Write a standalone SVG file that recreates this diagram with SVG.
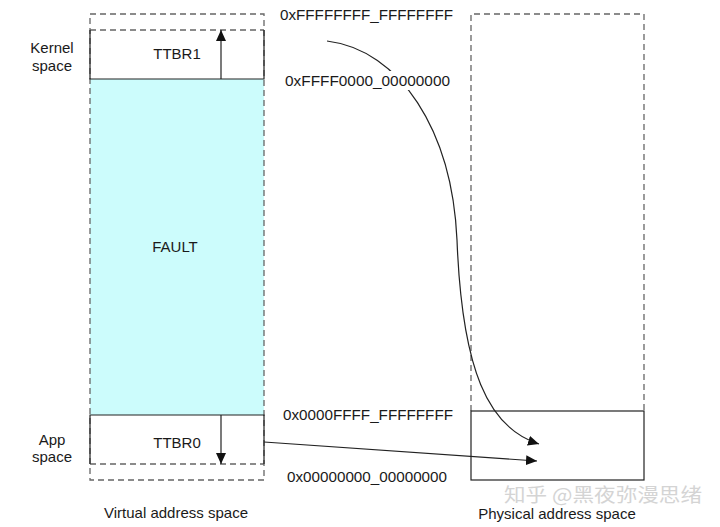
<svg xmlns="http://www.w3.org/2000/svg" width="720" height="527" viewBox="0 0 720 527">
<style>
text{font-family:"Liberation Sans",Arial,sans-serif;font-size:15px;fill:#1a1a1a}
.hex{font-size:15px}
.dash{fill:none;stroke:#666;stroke-width:1.3;stroke-dasharray:6 4}
.solid{fill:none;stroke:#222;stroke-width:1.2}
.conn{fill:none;stroke:#222;stroke-width:1.2}
.wm{font-family:"Noto Sans CJK SC","Noto Sans",sans-serif;font-size:19px;fill:#d4d4d4}
</style>
<defs>
<marker id="ah" markerUnits="userSpaceOnUse" markerWidth="12" markerHeight="10" refX="11" refY="5" orient="auto">
<path d="M0,0 L11,5 L0,10 Z" fill="#111"/>
</marker>
</defs>
<rect width="720" height="527" fill="#fff"/>

<g id="virtual-space">
<rect id="fault-fill" x="90" y="79" width="174" height="336" fill="#ccfcfc"/>
<rect class="dash" x="90" y="14" width="174" height="466"/>
<line class="dash" x1="90" y1="30" x2="264" y2="30"/>
<line class="dash" x1="90" y1="464" x2="264" y2="464"/>
<text x="176" y="518" text-anchor="middle">Virtual address space</text>
</g>

<g id="kernel-ttbr1">
<path class="solid" d="M90,30 V79 H264 V30"/>
<text x="177" y="59" text-anchor="middle">TTBR1</text>
<text x="52" y="53" text-anchor="middle">Kernel</text>
<text x="52" y="71" text-anchor="middle">space</text>
</g>

<g id="fault">
<text x="175" y="252" text-anchor="middle">FAULT</text>
</g>

<g id="app-ttbr0">
<path class="solid" d="M90,464 V415 H264 V464"/>
<text x="177" y="448" text-anchor="middle">TTBR0</text>
<text x="52" y="445" text-anchor="middle">App</text>
<text x="52" y="462" text-anchor="middle">space</text>
</g>

<g id="physical-space">
<path class="dash" d="M471,411 V14 H644 V411"/>
<text x="557" y="519" text-anchor="middle">Physical address space</text>
</g>

<g id="physical-region">
<rect class="solid" x="471" y="411" width="173" height="69"/>
</g>

<g id="connectors">
<line class="conn" x1="221" y1="79" x2="221" y2="30" marker-end="url(#ah)"/>
<line class="conn" x1="221" y1="415" x2="221" y2="464" marker-end="url(#ah)"/>
<path class="conn" d="M327,41 C400,50 452,130 457,240 C462,370 488,428 539,444" marker-end="url(#ah)"/>
<path class="conn" d="M264,442 L537,461" marker-end="url(#ah)"/>
</g>

<g id="address-labels">
<text class="hex" x="280" y="20" textLength="173" lengthAdjust="spacingAndGlyphs">0xFFFFFFFF_FFFFFFFF</text>
<rect x="283" y="71" width="169" height="19" fill="#fff"/>
<text class="hex" x="285" y="86" textLength="165" lengthAdjust="spacingAndGlyphs">0xFFFF0000_00000000</text>
<text class="hex" x="283" y="420" textLength="170" lengthAdjust="spacingAndGlyphs">0x0000FFFF_FFFFFFFF</text>
<text class="hex" x="287" y="482" textLength="160" lengthAdjust="spacingAndGlyphs">0x00000000_00000000</text>
</g>

<text class="wm" x="504" y="502" textLength="198" lengthAdjust="spacingAndGlyphs">知乎 @黑夜弥漫思绪</text>
</svg>
